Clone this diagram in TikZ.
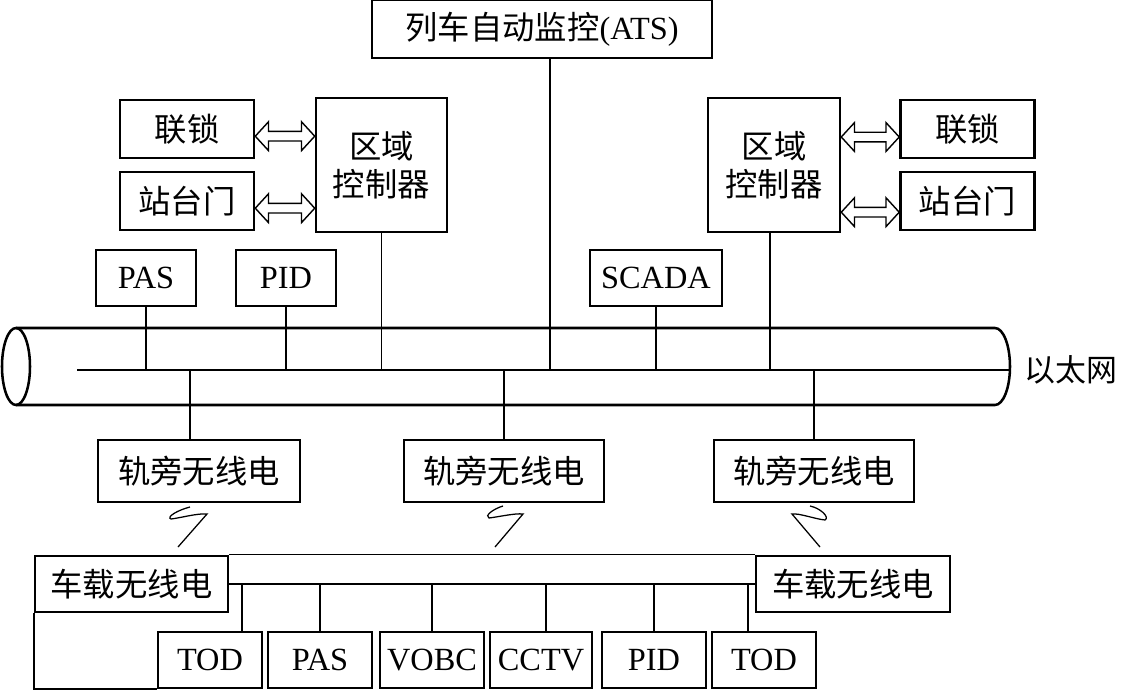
\documentclass[tikz,border=0pt]{standalone}
\usepackage{fontspec}
\usepackage{tikz}
\usetikzlibrary{calc}
\setmainfont{Liberation Serif}
\newfontfamily\cjk{Noto Sans CJK SC}

% hollow two-headed arrow between two points at the same height
\newcommand{\biarrow}[2]{%
  \draw[line width=1pt] let \p1=(#1), \p2=(#2) in
    (\x1,\y1) -- (\x1+0.33cm,\y1+0.36cm) -- (\x1+0.33cm,\y1+0.12cm)
    -- (\x2-0.33cm,\y1+0.12cm) -- (\x2-0.33cm,\y1+0.36cm) -- (\x2,\y1)
    -- (\x2-0.33cm,\y1-0.36cm) -- (\x2-0.33cm,\y1-0.12cm)
    -- (\x1+0.33cm,\y1-0.12cm) -- (\x1+0.33cm,\y1-0.36cm) -- cycle;}

\begin{document}
\begin{tikzpicture}[x=0.025cm, y=-0.025cm,
    every node/.style={font=\fontsize{23}{27}\selectfont},
    box/.style={draw, line width=1.8pt, inner sep=2pt, minimum height=1.45cm},
    link/.style={line width=1pt}]
    \useasboundingbox (0,0) rectangle (1121,692);

    % top: ATS
    \node[box, minimum width=8.5cm] (ats) at (542,29) {{\cjk 列车自动监控}(ATS)};

    % left station equipment
    \node[box, minimum width=3.35cm] (lil) at (187,129) {\cjk 联锁};
    \node[box, minimum width=3.35cm] (lpsd) at (187,201) {\cjk 站台门};
    \node[box, minimum width=3.275cm, minimum height=3.35cm, align=center] (lzc) at (381.5,165) {\cjk 区域\\\cjk 控制器};

    % right station equipment
    \node[box, minimum width=3.3cm, minimum height=3.35cm, align=center] (rzc) at (774,165) {\cjk 区域\\\cjk 控制器};
    \node[box, minimum width=3.35cm] (ril) at (967.5,129) {\cjk 联锁};
    \node[box, minimum width=3.35cm] (rpsd) at (967.5,201) {\cjk 站台门};

    \biarrow{[yshift=-0.18cm]lil.east}{[yshift=-0.18cm]lil.east -| lzc.west}
    \biarrow{[yshift=-0.18cm]lpsd.east}{[yshift=-0.18cm]lpsd.east -| lzc.west}
    \biarrow{[yshift=-0.2cm]ril.west -| rzc.east}{[yshift=-0.2cm]ril.west}
    \biarrow{[yshift=-0.28cm]rpsd.west -| rzc.east}{[yshift=-0.28cm]rpsd.west}

    \node[box, minimum width=2.5cm, minimum height=1.4cm] (pas) at (146,278) {PAS};
    \node[box, minimum width=2.5cm, minimum height=1.4cm] (pid) at (286,278) {PID};
    \node[box, minimum width=3.3cm, minimum height=1.4cm] (scada) at (656,278) {SCADA};

    % Ethernet cylinder
    \draw[line width=1.8pt] (16,328) -- (995,328)
        arc[start angle=-90, end angle=90, x radius=15, y radius=38.5] -- (16,405);
    \draw[line width=1.8pt] (16,366.5) ellipse [x radius=14, y radius=38.5];
    \coordinate (busL) at (77,370);
    \coordinate (busR) at (1010,370);
    \draw[line width=1.5pt] (busL) -- (busR);
    \node[anchor=east, inner sep=1pt, font=\fontsize{22}{26}\selectfont] (eth) at (1119,370) {\cjk 以太网};

    \draw[link] (pas) -- (pas |- busL);
    \draw[link] (pid) -- (pid |- busL);
    \draw[link] (lzc) -- (lzc |- busL);
    \draw[link] ([xshift=0.2cm]ats.south) -- ([xshift=0.2cm]ats.south |- busL);
    \draw[link] (scada) -- (scada |- busL);
    \draw[link] ([xshift=-0.1cm]rzc.south) -- ([xshift=-0.1cm]rzc.south |- busL);

    % trackside radios
    \node[box, minimum width=5.05cm, minimum height=1.55cm] (rad1) at (199,471) {\cjk 轨旁无线电};
    \node[box, minimum width=5cm, minimum height=1.55cm] (rad2) at (504,471) {\cjk 轨旁无线电};
    \node[box, minimum width=5cm, minimum height=1.55cm] (rad3) at (814,471) {\cjk 轨旁无线电};
    \draw[link] ([xshift=-0.22cm]rad1.north) -- ([xshift=-0.22cm]rad1.north |- busL);
    \draw[link] (rad2.north) -- (rad2.north |- busL);
    \draw[link] (rad3.north) -- (rad3.north |- busL);

    % wireless links
    \draw[line width=0.9pt] (190,507) .. controls (178,510) and (166,517) .. (171,519)
        .. controls (180,518) and (198,513) .. (207,514) -- (178,547);
    \draw[line width=0.9pt] (503,506) .. controls (493,509) and (484,516) .. (489,518)
        .. controls (498,517) and (515,513) .. (523,514) -- (495,547);
    \draw[line width=0.9pt] (810,506) .. controls (820,508) and (830,517) .. (825,520)
        .. controls (815,519) and (799,513) .. (792,514) -- (820,547);

    % train-borne network
    \node[box, minimum width=4.825cm, minimum height=1.4cm] (lobr) at (131.5,584) {\cjk 车载无线电};
    \node[box, minimum width=4.85cm, minimum height=1.4cm] (robr) at (853,584) {\cjk 车载无线电};
    \draw[link] (lobr.north east) -- (robr.north west);
    \draw[link] (lobr.east) -- (robr.west);

    \node[box, minimum width=2.6cm, minimum height=1.4cm] (tod1) at (210,660) {TOD};
    \node[box, minimum width=2.6cm, minimum height=1.4cm] (pas2) at (320,660) {PAS};
    \node[box, minimum width=2.6cm, minimum height=1.4cm] (vobc) at (432,660) {VOBC};
    \node[box, minimum width=2.55cm, minimum height=1.4cm] (cctv) at (541,660) {CCTV};
    \node[box, minimum width=2.6cm, minimum height=1.4cm] (pid2) at (654,660) {PID};
    \node[box, minimum width=2.6cm, minimum height=1.4cm] (tod2) at (764,660) {TOD};

    \draw[link] ([xshift=0.8cm]tod1.north) -- ([xshift=0.8cm]tod1.north |- lobr.east);
    \draw[link] (pas2.north) -- (pas2.north |- lobr.east);
    \draw[link] (vobc.north) -- (vobc.north |- lobr.east);
    \draw[link] ([xshift=0.12cm]cctv.north) -- ([xshift=0.12cm]cctv.north |- lobr.east);
    \draw[link] (pid2.north) -- (pid2.north |- lobr.east);
    \draw[link] ([xshift=-0.4cm]tod2.north) -- ([xshift=-0.4cm]tod2.north |- lobr.east);
    \draw[line width=1.5pt] (lobr.south west) |- (tod1.south west);
\end{tikzpicture}
\end{document}
